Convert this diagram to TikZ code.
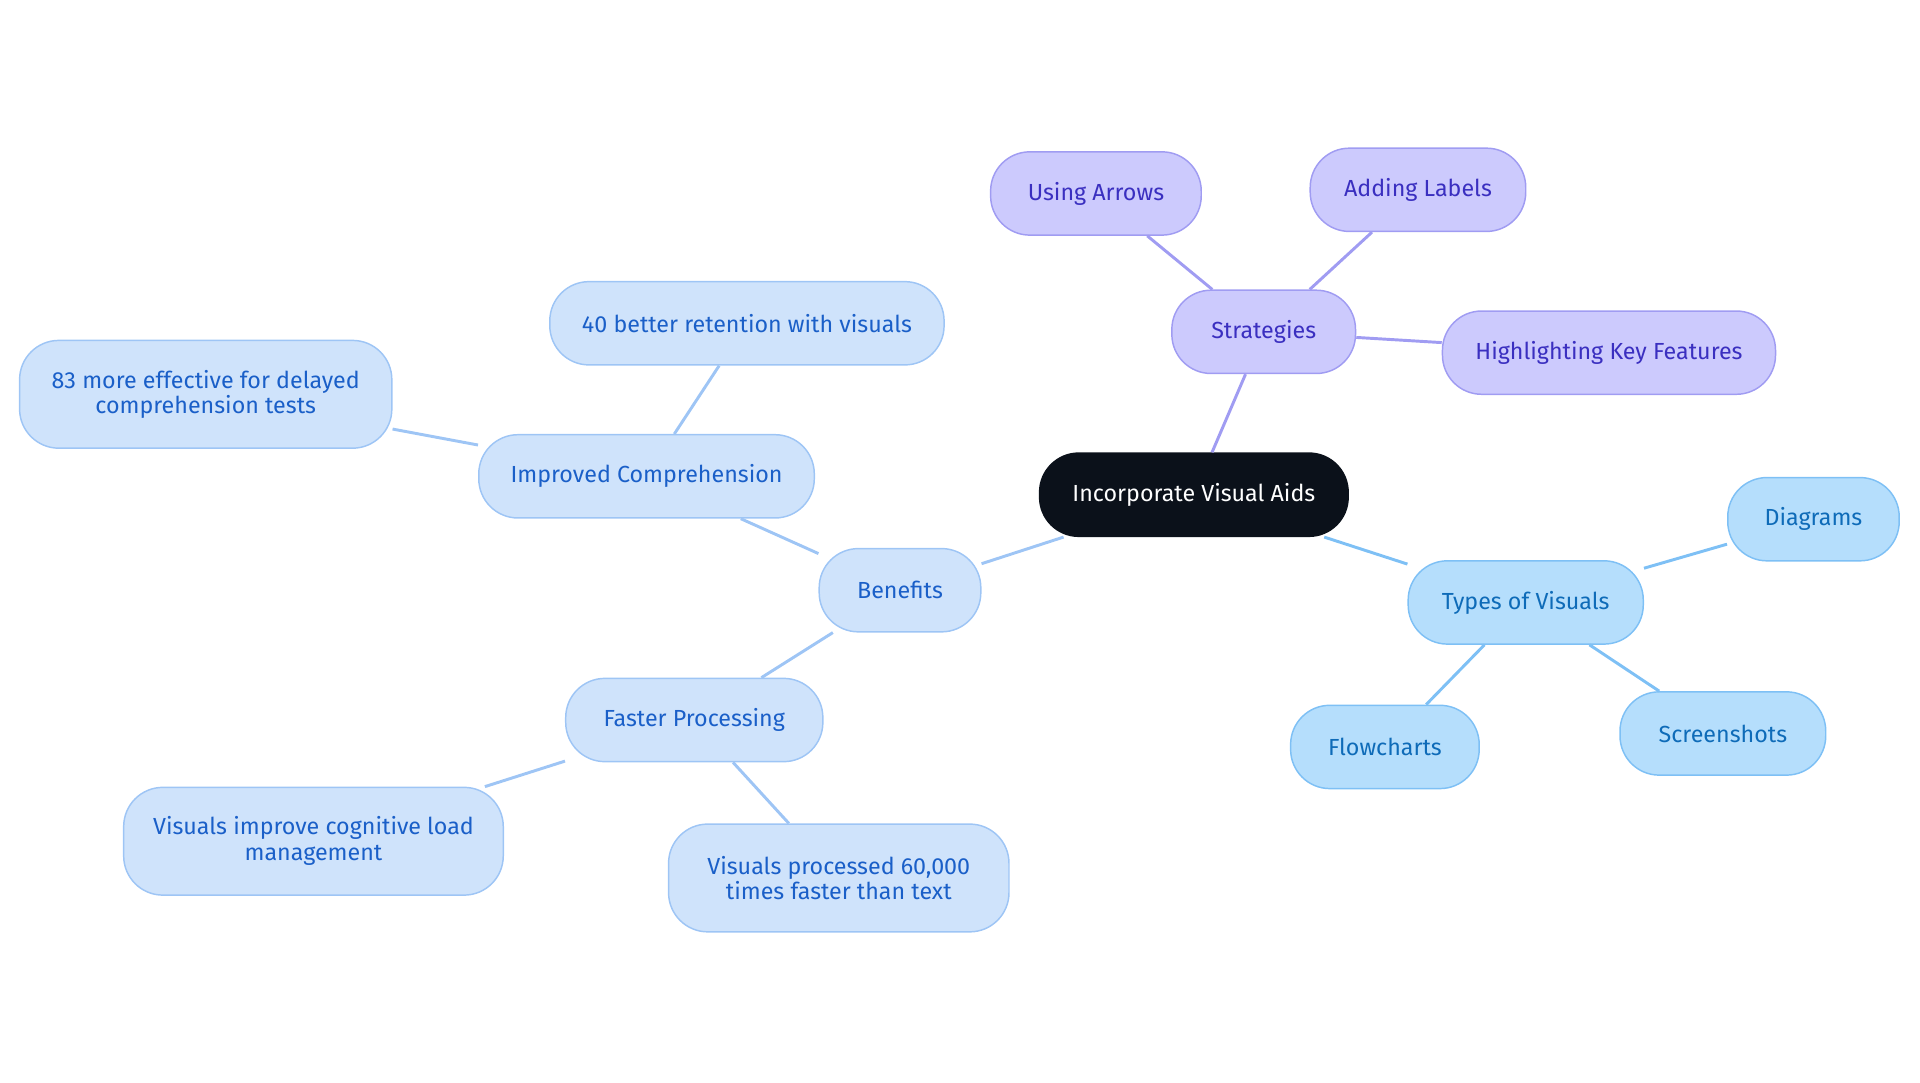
\documentclass[tikz,border=0pt]{standalone}
\usepackage{fontspec}
\setmainfont{Fira Sans}
\definecolor{bfill}{HTML}{CFE3FB}\definecolor{bdraw}{HTML}{9EC5F5}\definecolor{btext}{HTML}{1A5FC8}
\definecolor{sfill}{HTML}{CCCAFD}\definecolor{sdraw}{HTML}{A09CF2}\definecolor{stext}{HTML}{3A2FC0}
\definecolor{tfill}{HTML}{B5DEFC}\definecolor{tdraw}{HTML}{7EC0F5}\definecolor{ttext}{HTML}{0E6BB8}
\definecolor{cfill}{HTML}{0B111A}
\tikzset{
 base/.style={rounded corners=16pt,minimum height=34pt,align=center,font=\fontsize{9.5}{10.5}\selectfont,line width=0.6pt,inner sep=2pt},
 bnode/.style={base,fill=bfill,draw=bdraw,text=btext},
 snode/.style={base,fill=sfill,draw=sdraw,text=stext},
 tnode/.style={base,fill=tfill,draw=tdraw,text=ttext},
 cnode/.style={base,fill=cfill,draw=cfill,text=white},
 bedge/.style={draw=bdraw,line width=1.2pt},
 sedge/.style={draw=sdraw,line width=1.2pt},
 tedge/.style={draw=tdraw,line width=1.2pt},
}
\begin{document}
\begin{tikzpicture}[x=0.5pt,y=-0.5pt]
\useasboundingbox (0,0) rectangle (1568,884);
\node[cnode,minimum width=126pt] (c) at (975,404) {Incorporate Visual Aids};
\node[bnode,minimum width=66pt] (ben) at (735,482) {Benefits};
\node[bnode,minimum width=137pt] (imp) at (528,389) {Improved Comprehension};
\node[bnode,minimum width=161pt] (ret) at (610,264) {40 better retention with visuals};
\node[bnode,minimum width=152pt,minimum height=44pt] (eff) at (168,322) {83 more effective for delayed\\comprehension tests};
\node[bnode,minimum width=105pt] (fast) at (567,588) {Faster Processing};
\node[bnode,minimum width=155pt,minimum height=44pt] (cog) at (256,687) {Visuals improve cognitive load\\management};
\node[bnode,minimum width=139pt,minimum height=44pt] (proc) at (685,717) {Visuals processed 60,000\\times faster than text};
\node[snode,minimum width=75pt] (str) at (1032,271) {Strategies};
\node[snode,minimum width=86pt] (arr) at (895,158) {Using Arrows};
\node[snode,minimum width=88pt] (lab) at (1158,155) {Adding Labels};
\node[snode,minimum width=136pt] (hi) at (1314,288) {Highlighting Key Features};
\node[tnode,minimum width=96pt] (typ) at (1246,492) {Types of Visuals};
\node[tnode,minimum width=70pt] (dia) at (1481,424) {Diagrams};
\node[tnode,minimum width=77pt] (flo) at (1131,610) {Flowcharts};
\node[tnode,minimum width=84pt] (scr) at (1407,599) {Screenshots};
\draw[bedge] (c) -- (ben);
\draw[bedge] (ben) -- (imp);
\draw[bedge] (imp) -- (ret);
\draw[bedge] (imp) -- (eff);
\draw[bedge] (ben) -- (fast);
\draw[bedge] (fast) -- (cog);
\draw[bedge] (fast) -- (proc);
\draw[sedge] (c) -- (str);
\draw[sedge] (str) -- (arr);
\draw[sedge] (str) -- (lab);
\draw[sedge] (str) -- (hi);
\draw[tedge] (c) -- (typ);
\draw[tedge] (typ) -- (dia);
\draw[tedge] (typ) -- (flo);
\draw[tedge] (typ) -- (scr);
\end{tikzpicture}
\end{document}
